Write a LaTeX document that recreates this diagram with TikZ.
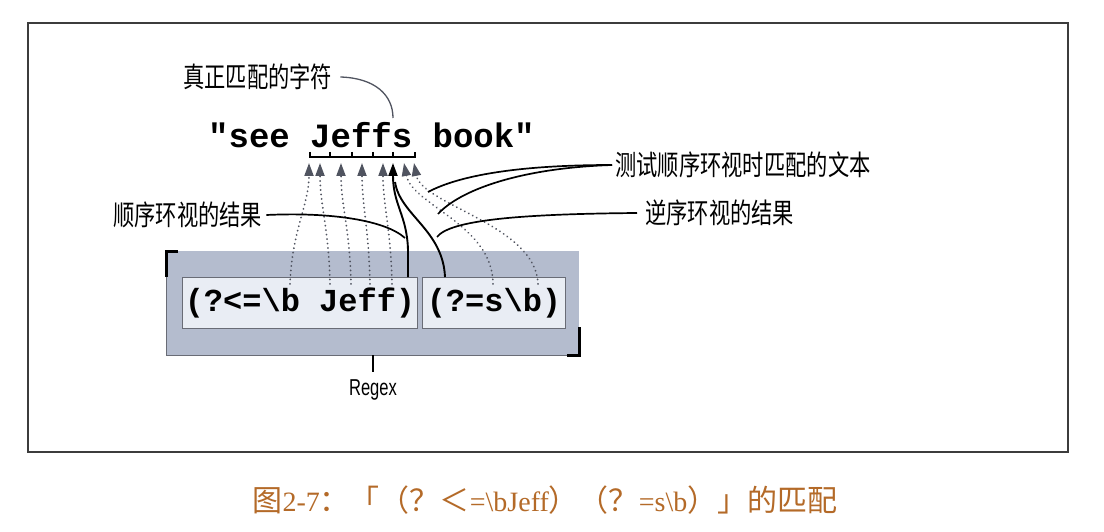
\documentclass[tikz,border=0pt]{standalone}
\usepackage{fontspec}
\usetikzlibrary{arrows.meta}
\newfontfamily\cjk[FakeStretch=0.76]{Noto Sans CJK SC}
\newfontfamily\cjkcap{Noto Sans CJK SC}
\newfontfamily\monofnt{Liberation Mono}
\newfontfamily\regexlbl[FakeStretch=0.72]{Liberation Sans}
\newfontfamily\capserif{Liberation Serif}
\definecolor{boxgray}{RGB}{180,188,206}
\definecolor{innerfill}{RGB}{233,237,244}
\definecolor{innerdraw}{RGB}{105,108,118}
\definecolor{arrowgray}{RGB}{80,84,96}
\definecolor{capcol}{RGB}{180,106,40}
\definecolor{framecol}{RGB}{60,60,60}
\begin{document}
\begin{tikzpicture}[x=1pt,y=-1pt,
  lbl/.style={font=\cjk\fontsize{28}{30}\selectfont, inner sep=0pt},
  codetxt/.style={font=\monofnt\bfseries\fontsize{32}{34}\selectfont},
  innerbox/.style={draw=innerdraw, fill=innerfill, line width=1pt, inner sep=0pt, anchor=north west, codetxt},
  tipshape/.style={-{Triangle[length=13pt,width=9pt]}},
  dotline/.style={draw=arrowgray, line width=1.9pt, dash pattern=on 0.1pt off 4.4pt, line cap=round, tipshape},
  solidarrow/.style={draw=black, line width=1.9pt, tipshape},
  heavy/.style={draw=black, line width=1.9pt},
  leader/.style={draw=black, line width=1.7pt}]
\useasboundingbox (0,0) rectangle (1104,532);
\fill[white] (0,0) rectangle (1104,532);
% frame
\draw[framecol, line width=1.8pt] (28,23) rectangle (1068,452);
% regex outer box
\node[fill=boxgray, minimum width=413pt, minimum height=104pt, anchor=north west, inner sep=0pt] (regexbox) at (166,251) {};
\draw[innerdraw, line width=1pt] (166,277) -- (166,355) -- (579,355);
\draw[black, line width=3pt] (178,251) -- (166,251) -- (166,277);
\draw[black, line width=3pt] (579,327) -- (579,355) -- (567,355);
% inner boxes
\node[innerbox, minimum width=235pt, minimum height=51pt] (lb) at (182,277) {(?<=\textbackslash b Jeff)};
\node[innerbox, minimum width=143pt, minimum height=51pt] (rb) at (422,277) {(?=s\textbackslash b)};
% top string
\node[font=\monofnt\bfseries\fontsize{34}{36}\selectfont, inner sep=0pt, anchor=base west] (str) at (208,148) {"see Jeffs book"};
\draw[black, line width=1.5pt] (310,152) -- (310,157) -- (415,157) -- (415,152);
\foreach \tx in {330,352,373,393}{\draw[black, line width=1.5pt] (\tx,152) -- (\tx,157);}
% arrow tips and dotted ends
\coordinate (t1) at (309,163); \coordinate (t2) at (320,163); \coordinate (t3) at (341,163);
\coordinate (t4) at (362,163); \coordinate (t5) at (383,163); \coordinate (t6) at (393,163);
\coordinate (t7) at (404,163); \coordinate (t8) at (414,163);
\coordinate (b1) at (290,284); \coordinate (b2) at (330,284); \coordinate (b3) at (351,284);
\coordinate (b4) at (370,284); \coordinate (b5) at (392,284);
\coordinate (b7) at (493,284); \coordinate (b8) at (538,284);
\coordinate (s1) at (408,277); \coordinate (s2) at (445,277);
\draw[dotline] (b1) .. controls (292,230) and (309,205) .. (t1);
\draw[dotline] (b2) .. controls (329,230) and (320,205) .. (t2);
\draw[dotline] (b3) .. controls (350,230) and (341,205) .. (t3);
\draw[dotline] (b4) .. controls (369,230) and (362,205) .. (t4);
\draw[dotline] (b5) .. controls (391,230) and (383,205) .. (t5);
\draw[dotline] (b7) .. controls (493,225) and (412,205) .. (t7);
\draw[dotline] (b8) .. controls (536,225) and (422,205) .. (t8);
% solid lines
\coordinate (join) at (395,182);
\draw[solidarrow] (s1) -- (408,250) .. controls (407,215) and (393,205) .. (t6);
\draw[heavy] (s2) .. controls (443,230) and (400,215) .. (join);
% labels
\node[lbl, anchor=west] (ltrue) at (183,77) {真正匹配的字符};
\node[lbl, anchor=west] (lahead) at (113,215) {顺序环视的结果};
\node[lbl, anchor=west] (lbehind) at (645,213) {逆序环视的结果};
\node[lbl, anchor=west] (ltest) at (615,165) {测试顺序环视时匹配的文本};
\coordinate (m1) at (405,238); \coordinate (m2) at (437,237);
\coordinate (e1) at (428,192); \coordinate (e2) at (438,214);
\coordinate (ttop) at (393,118);
\draw[arrowgray, line width=1.3pt] ([xshift=8pt]ltrue.east) .. controls (375,78) and (393,95) .. (ttop);
\draw[leader] ([xshift=4pt]lahead.east) .. controls (330,212) and (385,220) .. (m1);
\draw[leader] ([xshift=-8pt]lbehind.west) .. controls (520,214) and (450,220) .. (m2);
\draw[leader] ([xshift=-3pt]ltest.west) .. controls (520,165) and (460,175) .. (e1);
\draw[leader] ([xshift=-3pt]ltest.west) .. controls (520,168) and (460,190) .. (e2);
% Regex
\coordinate (rgtop) at (373,355);
\node[font=\regexlbl\fontsize{23}{25}\selectfont, inner sep=0pt] (rglbl) at (373,390) {Regex};
\draw[black, line width=1.2pt] (rgtop) -- (373,372);
% caption
\node[text=capcol, inner sep=0pt, font=\fontsize{30}{32}\selectfont] (cap) at (545,500)
 {{\cjkcap 图}{\capserif\fontsize{28}{30}\selectfont 2-7}{\cjkcap ：「（？＜}{\capserif\fontsize{28}{30}\selectfont =\textbackslash bJeff}{\cjkcap ）（？}{\capserif\fontsize{28}{30}\selectfont =s\textbackslash b}{\cjkcap ）」的匹配}};
\end{tikzpicture}
\end{document}
